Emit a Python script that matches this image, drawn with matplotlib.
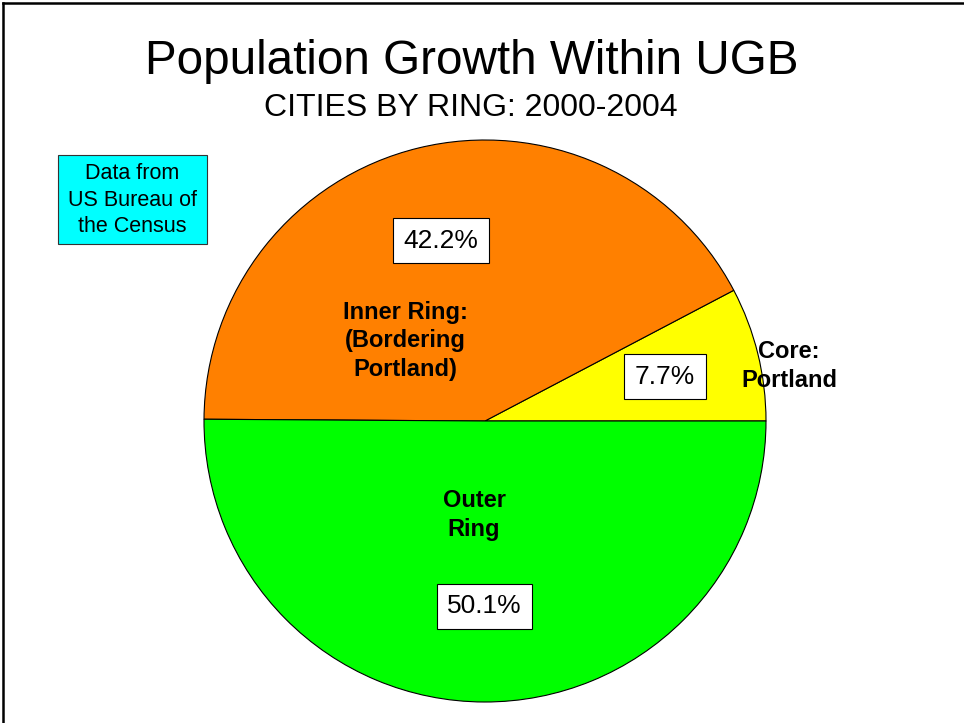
import matplotlib
matplotlib.use("Agg")
import matplotlib.pyplot as plt
from matplotlib.patches import Rectangle

plt.rcParams['font.family'] = ['Liberation Sans', 'DejaVu Sans']

# -------------------------------
# Data
# -------------------------------
slices = ["Core:\nPortland", "Inner Ring:\n(Bordering\nPortland)", "Outer\nRing"]
shares = [7.7, 42.2, 50.1]
colors = ["#FFFF00", "#FF8000", "#00FF00"]

title = "Population Growth Within UGB"
subtitle = "CITIES BY RING: 2000-2004"
source_note = "Data from\nUS Bureau of\nthe Census"

# layout (figure pixels, y measured from top)
pie_center = (485, 421)
pie_radius = 281
label_pos = [(789, 366), (405, 341), (474, 515)]

# -------------------------------
# Figure
# -------------------------------
fig = plt.figure(figsize=(9.64, 7.23), dpi=100)
ax = fig.add_axes([0, 0, 1, 1])

# y axis runs downwards, so clockwise in data is counter-clockwise on screen
wedges, texts, autotexts = ax.pie(
    shares, colors=colors, startangle=0, counterclock=False,
    center=pie_center, radius=pie_radius,
    autopct='%1.1f%%', pctdistance=0.66,
    wedgeprops=dict(edgecolor='black', linewidth=0.8),
    textprops=dict(fontsize=19, color='black'),
)
for t in autotexts:
    t.set_bbox(dict(boxstyle='square,pad=0.4', facecolor='white',
                    edgecolor='black', linewidth=0.8))

ax.set_xlim(0, 964)
ax.set_ylim(723, 0)
ax.set_aspect('equal')
ax.axis('off')

for name, (x, y) in zip(slices, label_pos):
    ax.text(x, y, name, ha='center', va='center', fontsize=17,
            fontweight='bold', linespacing=1.32)

# titles
ax.text(472, 62, title, ha='center', va='center', fontsize=34.3)
ax.text(471, 108, subtitle, ha='center', va='center', fontsize=23)

# source note box
ax.add_patch(Rectangle((58, 155), 149, 89, facecolor='#00FFFF',
                       edgecolor='#333333', linewidth=0.8))
ax.text(132, 200, source_note, ha='center', va='center', fontsize=15.5,
        linespacing=1.33)

# frame lines on top and left
ax.plot([2.5, 2.5], [723, 2.5], color='black', linewidth=1.8, clip_on=False,
        solid_capstyle='projecting')
ax.plot([2.5, 964], [2.5, 2.5], color='black', linewidth=1.8, clip_on=False,
        solid_capstyle='projecting')

fig.savefig("out.png", dpi=100, facecolor='white')
